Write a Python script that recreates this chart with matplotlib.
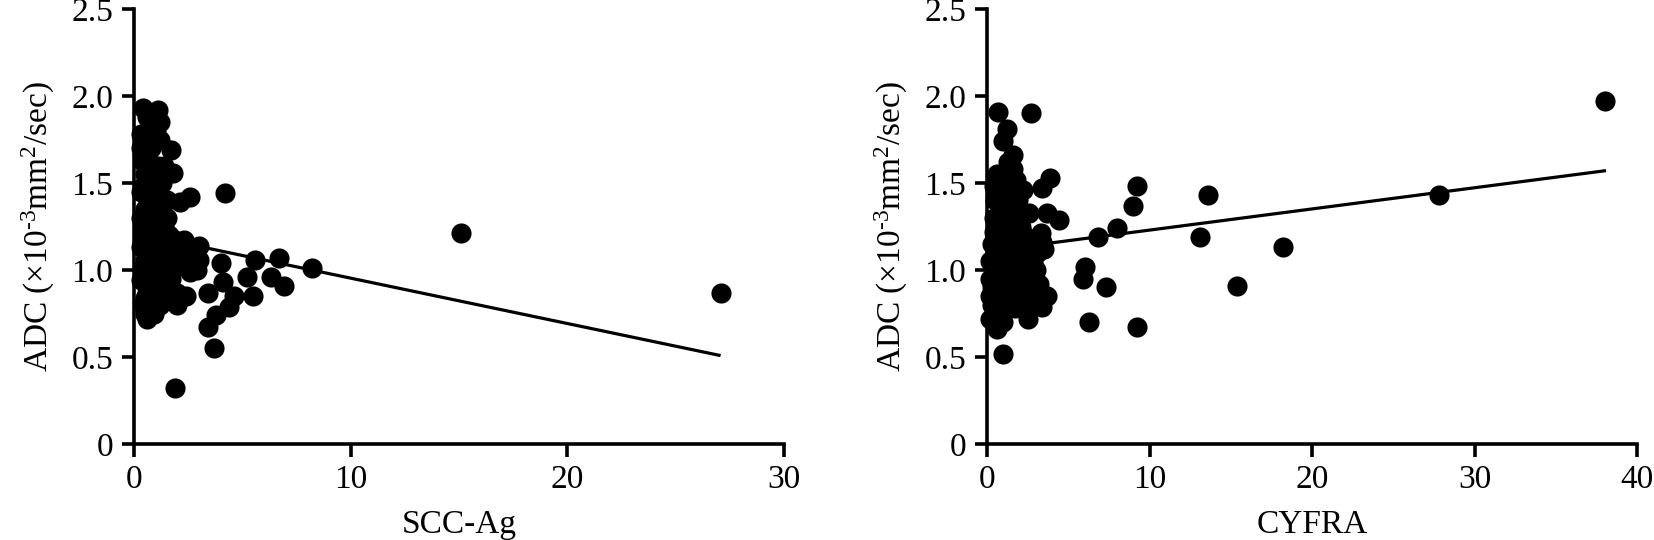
import matplotlib
matplotlib.use("Agg")
import matplotlib.pyplot as plt
from matplotlib import font_manager

available = {f.name for f in font_manager.fontManager.ttflist}
serif_choice = None
for cand in ["Liberation Serif", "Tinos", "Times New Roman", "Nimbus Roman", "TeX Gyre Termes",
             "FreeSerif", "STIXGeneral", "Noto Serif", "DejaVu Serif"]:
    if cand in available:
        serif_choice = cand
        break
if serif_choice is None:
    serif_choice = "DejaVu Serif"

plt.rcParams['font.family'] = [serif_choice, 'DejaVu Serif']
plt.rcParams['mathtext.fontset'] = 'custom'
plt.rcParams['mathtext.rm'] = serif_choice
plt.rcParams['mathtext.it'] = serif_choice + ':italic'

# ---- SCC-Ag panel data ----
scc_x = [0.3, 0.4, 0.5, 0.4, 0.6, 0.5, 0.3, 0.7, 0.4, 0.6, 0.3, 0.8, 0.5, 0.4, 0.7, 0.3,
         0.6, 0.5, 0.4, 0.8, 0.6, 0.9, 1.0, 1.1, 0.9, 1.2, 1.0, 1.3, 1.1, 0.9, 1.2, 1.4,
         1.0, 1.3, 1.1, 1.5, 1.2, 0.7, 0.8, 1.0, 1.2, 0.6, 1.4, 1.6, 1.5, 1.7, 1.6, 1.8,
         2.0, 1.3, 1.5, 1.4, 0.8, 0.7, 1.7, 1.9,
         0.4, 0.7, 1.1, 0.5, 0.6, 1.7, 1.8, 0.9, 0.6, 0.7, 1.5, 2.0,
         2.1, 2.6, 2.3, 3.0, 2.6, 2.9, 2.4, 2.0, 3.0, 3.4, 3.4, 3.8, 4.4, 4.6, 4.1, 4.0,
         4.2, 3.7, 1.9, 5.2, 5.5, 5.6, 6.3, 6.7, 6.9, 8.2, 15.1, 27.1,
         0.3, 0.5, 0.8, 1.1, 1.3, 0.9, 0.6, 1.0, 1.2, 0.4, 0.7, 1.4, 0.3, 0.9, 1.1, 0.5,
         1.3, 0.8, 1.6, 1.9, 2.2, 2.5, 1.8, 1.2, 0.5, 0.9, 1.5, 1.0]
scc_y = [1.78, 1.62, 1.55, 1.48, 1.42, 1.35, 1.30, 1.27, 1.22, 1.18, 1.13, 1.10, 1.06, 1.01, 0.98, 0.94,
         0.90, 0.84, 0.80, 0.78, 0.72, 1.52, 1.45, 1.38, 1.33, 1.28, 1.22, 1.17, 1.12, 1.08, 1.03, 0.99,
         0.95, 0.92, 0.88, 0.84, 0.80, 1.60, 1.70, 1.80, 1.85, 1.88, 1.12, 1.20, 1.05, 0.95, 0.90, 0.82,
         0.80, 1.50, 1.40, 1.60, 1.45, 1.40, 1.10, 1.02,
         1.93, 1.90, 1.92, 1.75, 1.65, 1.69, 1.56, 0.75, 0.87, 0.96, 0.85, 0.87,
         1.39, 1.42, 1.17, 1.14, 0.99, 1.00, 0.85, 1.11, 1.06, 0.87, 0.67, 0.74, 0.79, 0.85, 0.93, 1.04,
         1.44, 0.55, 0.32, 0.96, 0.85, 1.06, 0.96, 1.07, 0.91, 1.01, 1.21, 0.87,
         1.70, 1.68, 1.55, 1.60, 1.35, 1.25, 1.25, 1.05, 0.92, 1.15, 1.12, 1.25, 1.45, 0.98, 1.00, 0.75,
         1.05, 0.92, 1.00, 1.12, 1.05, 1.10, 1.18, 1.75, 0.98, 1.85, 1.30, 0.85]
scc_fit_x = [0.3, 27.0]
scc_fit_y = [1.206, 0.51]

# ---- CYFRA panel data ----
cyf_x = [0.3, 0.5, 0.2, 0.6, 0.4, 0.3, 0.8, 0.5, 1.0, 0.2, 0.7, 1.1, 0.9, 1.3, 1.5, 1.2,
         1.6, 1.4, 1.8, 2.0, 2.3, 1.7, 1.9, 2.2, 2.4, 2.6, 2.1, 1.1, 0.8, 1.2, 1.5, 1.9,
         1.0, 1.6, 1.3, 1.8, 2.5, 0.4,
         0.7, 2.7, 1.2, 1.0, 1.6, 3.9, 3.4, 9.2, 9.0, 2.6, 3.7, 4.4, 8.0, 6.8, 5.9, 6.0,
         7.3, 6.3, 9.2, 1.0, 3.4, 2.5, 0.2, 0.6, 1.0, 3.7, 3.1, 3.4, 3.3, 3.1, 2.8, 0.8,
         0.6, 1.8, 2.2, 1.4, 0.4, 13.6, 13.1, 15.4, 18.2, 27.8, 38.0,
         0.2, 0.6, 1.0, 1.4, 1.8, 2.2, 2.6, 0.4, 0.8, 1.2, 1.6, 2.0, 2.4, 2.8, 3.0, 0.3,
         0.9, 1.5, 2.1, 2.7, 1.3, 1.7, 0.5, 1.1, 1.9, 2.3, 3.2, 3.5]
cyf_y = [1.15, 1.10, 1.05, 1.00, 0.95, 0.90, 0.85, 0.80, 0.78, 0.85, 1.20, 1.25, 1.15, 1.10, 1.05, 1.00,
         0.95, 0.90, 0.85, 0.82, 0.80, 1.12, 1.18, 1.08, 1.00, 0.95, 0.92, 0.95, 1.35, 1.42, 1.45, 1.40,
         1.50, 1.58, 1.62, 1.30, 1.12, 1.30,
         1.91, 1.90, 1.81, 1.74, 1.66, 1.53, 1.47, 1.48, 1.37, 1.33, 1.33, 1.29, 1.24, 1.19, 0.95, 1.02,
         0.90, 0.70, 0.67, 0.52, 0.79, 0.72, 0.72, 0.66, 0.70, 0.85, 0.87, 1.16, 1.21, 1.10, 1.04, 1.39,
         1.55, 1.52, 1.46, 1.30, 1.48, 1.43, 1.19, 0.91, 1.13, 1.43, 1.97,
         0.95, 1.08, 1.12, 1.18, 1.05, 1.15, 1.05, 1.22, 0.98, 0.88, 1.08, 1.00, 0.88, 0.82, 1.00, 0.80,
         1.28, 1.35, 1.25, 1.15, 0.82, 0.78, 1.40, 1.05, 0.95, 1.20, 0.92, 1.12]
cyf_fit_x = [0.2, 38.0]
cyf_fit_y = [1.11, 1.57]

y_ticks = [0, 0.5, 1.0, 1.5, 2.0, 2.5]
y_tick_labels = ["0", "0.5", "1.0", "1.5", "2.0", "2.5"]
scc_ticks = [0, 10, 20, 30]
cyf_ticks = [0, 10, 20, 30, 40]
ylabel = r"ADC ($\times$10$^{\text{-}3}$mm$^{2}$/sec)"

fig = plt.figure(figsize=(16.54, 5.40), dpi=100)
ax1 = fig.add_axes([134/1654, 96/540, 650/1654, 435/540])
ax2 = fig.add_axes([987/1654, 96/540, 650/1654, 435/540])

panels = [
    (ax1, scc_x, scc_y, scc_fit_x, scc_fit_y, scc_ticks, "SCC-Ag", 30),
    (ax2, cyf_x, cyf_y, cyf_fit_x, cyf_fit_y, cyf_ticks, "CYFRA", 40),
]
for ax, xs, ys, fx, fy, xt, xl, xmax in panels:
    ax.scatter(xs, ys, s=210, c="black", marker="o", linewidths=0, zorder=3, clip_on=False)
    ax.plot(fx, fy, color="black", lw=2.3, zorder=2)
    ax.set_xlim(0, xmax)
    ax.set_ylim(0, 2.5)
    ax.set_xticks(xt)
    ax.set_xticklabels([str(t) for t in xt])
    ax.set_yticks(y_ticks)
    ax.set_yticklabels(y_tick_labels)
    for s in ["top", "right"]:
        ax.spines[s].set_visible(False)
    for s in ["left", "bottom"]:
        ax.spines[s].set_linewidth(2.6)
    ax.tick_params(axis="both", direction="out", length=9, width=2.6,
                   labelsize=24, pad=6, colors="black")
    ax.set_xlabel(xl, fontsize=24, labelpad=10)
    ax.set_ylabel(ylabel, fontsize=24, labelpad=10)

fig.savefig("out.png", dpi=100, facecolor="white")
